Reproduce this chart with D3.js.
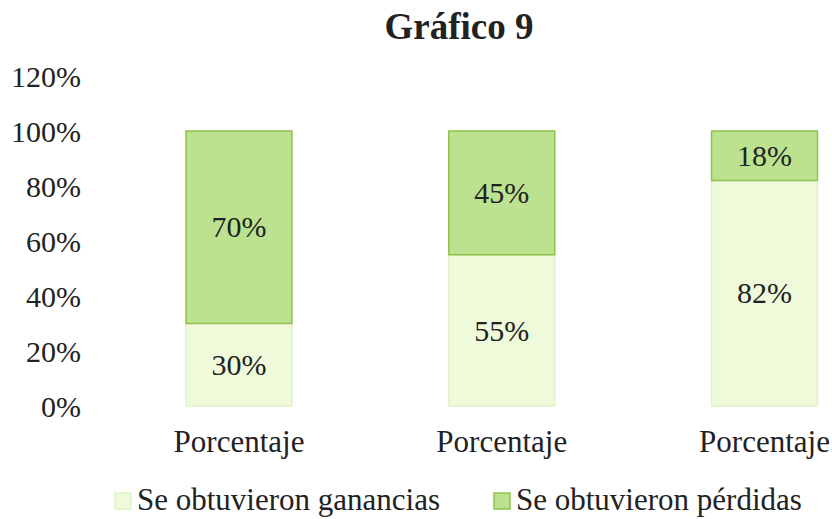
<!DOCTYPE html>
<html>
<head>
<meta charset="utf-8">
<script src="https://cdn.jsdelivr.net/npm/d3@7"></script>
<style>
  body { margin: 0; background: #fff; }
  text { font-family: "Liberation Serif", "DejaVu Serif", serif; fill: #222; }
</style>
</head>
<body>
<svg id="chart" width="832" height="519"></svg>
<script>
const categories = ['Porcentaje', 'Porcentaje', 'Porcentaje'];
const ganancias = [30, 55, 82];
const perdidas = [70, 45, 18];
const yTicks = [0, 20, 40, 60, 80, 100, 120];
const seriesNames = ['Se obtuvieron ganancias', 'Se obtuvieron pérdidas'];

const LIGHT = '#eefad9';
const DARK = '#bde28f';
const DARK_STROKE = '#8fc24c';
const LIGHT_STROKE = '#e0f2c6';

const svg = d3.select('#chart');

const x = d3.scaleBand()
    .domain(categories.map((d, i) => i))
    .range([107.6, 895.9])
    .paddingInner(0.597)
    .paddingOuter(0.2985);

const y = d3.scaleLinear()
    .domain([0, 120])
    .range([406, 76]);

// title
svg.append('text')
    .attr('x', 459)
    .attr('y', 39)
    .attr('text-anchor', 'middle')
    .style('font-size', '37px')
    .style('font-weight', 'bold')
    .text('Gráfico 9');

// y axis (labels only)
const yAxis = svg.append('g')
    .attr('transform', 'translate(81,0)')
    .call(d3.axisLeft(y).tickValues(yTicks).tickFormat(d => d + '%').tickSize(0).tickPadding(0));
yAxis.select('.domain').remove();
yAxis.selectAll('text')
    .attr('dy', '0.36em')
    .style('font-size', '30px');

// stacked data
const rows = categories.map((c, i) => ({ i, ganancias: ganancias[i], perdidas: perdidas[i] }));
const stacked = d3.stack().keys(['ganancias', 'perdidas'])(rows);
const fills = [LIGHT, DARK];
const strokes = [LIGHT_STROKE, DARK_STROKE];

const layers = svg.selectAll('.layer')
    .data(stacked)
    .join('g')
    .attr('class', 'layer');

layers.selectAll('rect')
    .data((d, k) => d.map(v => ({ v, k })))
    .join('rect')
    .attr('x', d => x(d.v.data.i))
    .attr('width', x.bandwidth())
    .attr('y', d => y(d.v[1]))
    .attr('height', d => y(d.v[0]) - y(d.v[1]))
    .attr('fill', d => fills[d.k])
    .attr('stroke', d => strokes[d.k])
    .attr('stroke-width', 1.5);

layers.selectAll('text')
    .data((d, k) => d.map(v => ({ v, k })))
    .join('text')
    .attr('x', d => x(d.v.data.i) + x.bandwidth() / 2)
    .attr('y', d => (y(d.v[0]) + y(d.v[1])) / 2)
    .attr('dy', '0.34em')
    .attr('text-anchor', 'middle')
    .style('font-size', '30px')
    .text(d => (d.v[1] - d.v[0]) + '%');

// x axis (labels only)
const xAxis = svg.append('g')
    .attr('transform', 'translate(0,406)')
    .call(d3.axisBottom(x).tickFormat(i => categories[i]).tickSize(0).tickPadding(0));
xAxis.select('.domain').remove();
xAxis.selectAll('text')
    .attr('dy', null)
    .attr('y', 46)
    .style('font-size', '31px');

// legend
const legendX = [115, 494];
const legend = svg.selectAll('.legend')
    .data(seriesNames)
    .join('g')
    .attr('class', 'legend')
    .attr('transform', (d, i) => `translate(${legendX[i]},493)`);

legend.append('rect')
    .attr('width', 16)
    .attr('height', 16)
    .attr('fill', (d, i) => fills[i])
    .attr('stroke', (d, i) => strokes[i])
    .attr('stroke-width', 1.5);

legend.append('text')
    .attr('x', 22)
    .attr('y', 17)
    .style('font-size', '31px')
    .text(d => d);
</script>
</body>
</html>
